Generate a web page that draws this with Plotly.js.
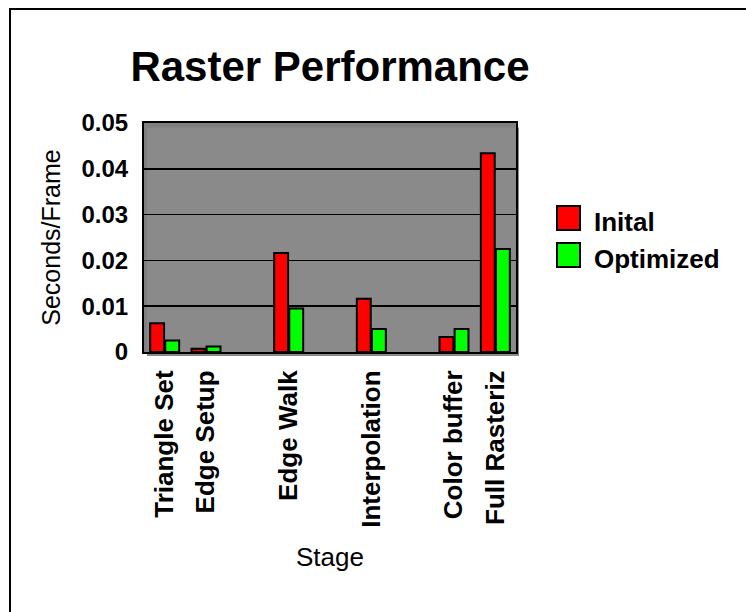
<!DOCTYPE html>
<html>
<head>
<meta charset="utf-8">
<script src="https://cdn.plot.ly/plotly-3.0.1.min.js"></script>
<style>
  html, body { margin: 0; padding: 0; background: #ffffff; }
  #wrap { position: relative; width: 746px; height: 612px; overflow: hidden; }
  #chart { position: absolute; left: 0; top: 0; width: 746px; height: 612px; }
  #frame { position: absolute; left: 9px; top: 8px; width: 800px; height: 700px;
           border-left: 2px solid #000; border-top: 2px solid #000; pointer-events: none; }
</style>
</head>
<body>
<div id="wrap">
  <div id="chart"></div>
  <div id="frame"></div>
</div>
<script>
// ---- data ----
const stages = ['Triangle Set', 'Edge Setup', '', 'Edge Walk', '', 'Interpolation', '', 'Color buffer', 'Full Rasteriz'];
const initial = [0.0063, 0.0007, null, 0.0216, null, 0.0116, null, 0.0033, 0.0434];
const optimized = [0.0025, 0.0012, null, 0.0095, null, 0.0050, null, 0.0050, 0.0225];
const seriesNames = ['Inital', 'Optimized'];
const seriesColors = ['#ff0000', '#00ff00'];
const yTickVals = [0, 0.01, 0.02, 0.03, 0.04, 0.05];
const yTickText = ['0', '0.01', '0.02', '0.03', '0.04', '0.05'];

const positions = stages.map((s, i) => i);
const seriesValues = [initial, optimized];

const boldFont = 'Arial, "Liberation Sans", sans-serif';

const traces = seriesValues.map((vals, k) => ({
  type: 'bar',
  name: seriesNames[k],
  x: positions,
  y: vals,
  marker: { color: seriesColors[k], line: { color: '#000000', width: 2 } },
  showlegend: false,
  hoverinfo: 'x+y+name'
}));

// custom legend (large square swatches)
const shapes = [
  // plot-area drop shadow
  { type: 'rect', xref: 'paper', yref: 'paper', layer: 'below',
    x0: 0.008, x1: 1.008, y0: -0.018, y1: 0.98,
    fillcolor: '#8a8a8a', line: { width: 0 } }
];
const annotations = [];
seriesNames.forEach((name, k) => {
  const top = 83 + k * 37;
  shapes.push({
    type: 'rect', xref: 'paper', yref: 'paper',
    xsizemode: 'pixel', ysizemode: 'pixel', xanchor: 1, yanchor: 1,
    x0: 41, x1: 64, y0: -(top + 24), y1: -top,
    fillcolor: seriesColors[k], line: { color: '#000000', width: 2 }
  });
  annotations.push({
    xref: 'paper', yref: 'paper', x: 1, y: 1,
    xshift: 76, yshift: -(top + 16),
    xanchor: 'left', yanchor: 'middle', showarrow: false,
    text: '<b>' + name + '</b>',
    font: { family: boldFont, size: 26, color: '#000000' }
  });
});

const layout = {
  width: 746, height: 612,
  margin: { l: 144, r: 230, t: 123, b: 260, pad: 0 },
  paper_bgcolor: '#ffffff',
  plot_bgcolor: '#808080',
  bargap: 0.27,
  bargroupgap: 0.08,
  barmode: 'group',
  title: {
    text: '<b>Raster Performance</b>',
    font: { family: boldFont, size: 42, color: '#000000' },
    x: 0.5, xref: 'paper', xanchor: 'center',
    y: 0.892, yref: 'container', yanchor: 'middle'
  },
  xaxis: {
    type: 'linear',
    range: [-0.5, stages.length - 0.5],
    tickmode: 'array', tickvals: positions, ticktext: stages.map(s => s ? '<b>' + s + '</b>' : ''),
    tickangle: -90,
    ticks: '', ticklabelstandoff: 6,
    tickfont: { family: boldFont, size: 26, color: '#000000' },
    showgrid: false, zeroline: false,
    showline: true, mirror: true, linecolor: '#000000', linewidth: 2,
    title: { text: 'Stage', font: { family: 'Arial, "Liberation Sans", sans-serif', size: 26, color: '#000000' }, standoff: 21 },
    automargin: false, fixedrange: true
  },
  yaxis: {
    range: [0, 0.05],
    tickmode: 'array', tickvals: yTickVals, ticktext: yTickText.map(t => '<b>' + t + '</b>'),
    ticks: '', ticklabelstandoff: 9,
    tickfont: { family: boldFont, size: 24, color: '#000000' },
    showgrid: true, gridcolor: '#000000', gridwidth: 1.5,
    zeroline: false,
    showline: true, mirror: true, linecolor: '#000000', linewidth: 2,
    title: { text: 'Seconds/Frame', font: { family: 'Arial, "Liberation Sans", sans-serif', size: 25, color: '#000000' }, standoff: 14 },
    automargin: false, fixedrange: true
  },
  shapes: shapes,
  annotations: annotations,
  showlegend: false
};

Plotly.newPlot('chart', traces, layout, { displayModeBar: false, staticPlot: true });
</script>
</body>
</html>
